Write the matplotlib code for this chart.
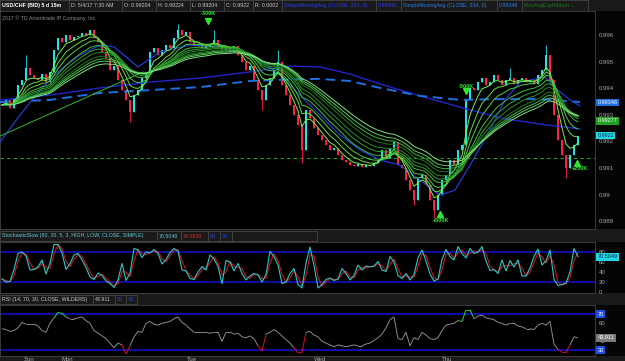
import numpy as np
import pandas as pd
import matplotlib
matplotlib.use("Agg")
import matplotlib.pyplot as plt
from matplotlib.collections import LineCollection
from matplotlib.patches import Rectangle
import matplotlib.transforms as mtrans

plt.rcParams['font.family'] = ['Liberation Sans', 'DejaVu Sans']

W, H = 625, 361

# USD/CHF closes, one value per ~45 min
closes = [
    0.99337, 0.99356, 0.99326, 0.99363, 0.99412, 0.99431, 0.99476, 0.99450, 0.99438, 0.99431,
    0.99453, 0.99423, 0.99461, 0.99544, 0.99589, 0.99574, 0.99600, 0.99581, 0.99592, 0.99596,
    0.99608, 0.99600, 0.99619, 0.99589, 0.99574, 0.99536, 0.99514, 0.99468, 0.99483, 0.99431,
    0.99393, 0.99356, 0.99310, 0.99374, 0.99393, 0.99438, 0.99461, 0.99536, 0.99551, 0.99525,
    0.99544, 0.99562, 0.99551, 0.99589, 0.99619, 0.99600, 0.99611, 0.99574, 0.99559, 0.99566,
    0.99551, 0.99559, 0.99566, 0.99581, 0.99555, 0.99544, 0.99551, 0.99536, 0.99559, 0.99525,
    0.99498, 0.99468, 0.99483, 0.99431, 0.99393, 0.99356, 0.99412, 0.99438, 0.99468, 0.99498,
    0.99412, 0.99374, 0.99337, 0.99299, 0.99262, 0.99168, 0.99318, 0.99288, 0.99250, 0.99224,
    0.99205, 0.99186, 0.99168, 0.99175, 0.99149, 0.99130, 0.99122, 0.99111, 0.99107, 0.99115,
    0.99104, 0.99111, 0.99107, 0.99119, 0.99130, 0.99168, 0.99138, 0.99175, 0.99198, 0.99111,
    0.99100, 0.99055, 0.99017, 0.98980, 0.99062, 0.99074, 0.99036, 0.98980, 0.98942, 0.98998,
    0.99055, 0.99074, 0.99130, 0.99111, 0.99168, 0.99186, 0.99356, 0.99401, 0.99393, 0.99423,
    0.99438, 0.99412, 0.99423, 0.99450, 0.99431, 0.99412, 0.99431, 0.99438, 0.99416, 0.99431,
    0.99438, 0.99423, 0.99431, 0.99416, 0.99450, 0.99468, 0.99525, 0.99431, 0.99299, 0.99205,
    0.99149, 0.99100, 0.99149, 0.99186, 0.99220,
]
# long wicks
spike_bar = [6, 32, 44, 53, 65, 69, 75, 103, 108, 127, 136, 141]
spike_px = [0.99525, 0.99273, 0.99641, 0.99619, 0.99318, 0.99544, 0.99119,
            0.98961, 0.98912, 0.99476, 0.99562, 0.99062]

# slow averages, knots (bar, price)
sma_bar = [-0.5, 12, 24.5, 37, 49.5, 62, 72, 79.5, 87, 94.5, 104.5, 114.5, 124.5, 134.5, 144.5]
sma_solid = [0.99356, 0.99374, 0.99401, 0.99423, 0.99438, 0.99461, 0.99483, 0.99480, 0.99453,
             0.99416, 0.99371, 0.99329, 0.99288, 0.99265, 0.99247]
sma_dash = [0.99348, 0.99356, 0.99382, 0.99393, 0.99404, 0.99427, 0.99433, 0.99435, 0.99427,
            0.99401, 0.99371, 0.99356, 0.99359, 0.99359, 0.99348]
fast_bar = [-0.5, 4.5, 9.5, 14.5, 19.5, 24.5, 28, 34, 39.5, 47, 54.5, 59.5, 64.5, 69.5, 74.5,
            79.5, 84.5, 89.5, 94.5, 99.5, 104.5, 109.5, 113.25, 117, 122, 125.75, 129.5,
            135.75, 138.25, 142, 144.5]
fast_blue = [0.99198, 0.99299, 0.99393, 0.99468, 0.99525, 0.99562, 0.99555, 0.99480, 0.99536,
             0.99562, 0.99555, 0.99536, 0.99506, 0.99450, 0.99374, 0.99299, 0.99224, 0.99168,
             0.99130, 0.99111, 0.99055, 0.98998, 0.99017, 0.99111, 0.99243, 0.99356, 0.99423,
             0.99442, 0.99401, 0.99356, 0.99333]
seed_bar = [-0.5, 35.25]
seed_line = [0.99220, 0.99461]
ribbon_spans = [4, 7, 10, 14, 17, 20, 24, 27, 30, 34]
level_line = 0.99139

stoch_k = [
    26, 20, 21, 45, 77, 80, 72, 44, 45, 50,
    64, 36, 58, 95, 95, 78, 45, 57, 74, 77,
    64, 49, 30, 25, 38, 33, 22, 17, 9, 24,
    57, 23, 38, 87, 84, 69, 80, 78, 85, 77,
    56, 65, 79, 87, 82, 44, 42, 27, 25, 40,
    51, 44, 74, 66, 51, 17, 63, 60, 42, 57,
    37, 24, 32, 37, 34, 20, 35, 81, 71, 54,
    17, 20, 37, 47, 15, 8, 58, 90, 53, 8,
    15, 25, 28, 23, 26, 47, 37, 24, 33, 54,
    44, 52, 50, 52, 61, 44, 41, 71, 60, 33,
    27, 37, 24, 35, 68, 84, 62, 36, 22, 26,
    65, 85, 71, 64, 91, 77, 68, 87, 77, 80,
    91, 62, 43, 45, 37, 64, 42, 63, 50, 64,
    32, 32, 48, 71, 86, 54, 62, 84, 25, 13,
    15, 18, 40, 87, 70.5,
]
rsi = [
    54, 53, 51, 52, 55, 61, 59, 59, 59, 57,
    52, 50, 60, 66, 72, 71, 67, 65, 65, 66,
    67, 63, 60, 52, 49, 46, 43, 38, 33, 38,
    36, 26, 35, 45, 51, 50, 60, 62, 59, 58,
    60, 61, 62, 65, 67, 61, 58, 54, 50, 50,
    50, 50, 49, 50, 50, 40, 50, 50, 48, 49,
    45, 44, 46, 43, 35, 29, 48, 50, 53, 50,
    46, 42, 38, 33, 27, 28, 50, 51, 47, 45,
    40, 38, 36, 34, 36, 35, 34, 35, 36, 35,
    35, 37, 38, 41, 44, 48, 55, 64, 67, 43,
    42, 50, 35, 44, 42, 50, 47, 43, 42, 44,
    52, 58, 59, 60, 63, 62, 75, 75, 65, 68,
    69, 66, 65, 64, 61, 60, 58, 60, 60, 57,
    56, 54, 54, 53, 58, 60, 58, 62, 37, 31,
    28, 28, 36, 45, 43.911,
]
day_names = ['Sun', 'Mon', 'Tue', 'Wed', 'Thu']
day_bar = [6.75, 16.25, 47.5, 79.5, 111.25]
price_ticks = [0.989, 0.990, 0.991, 0.992, 0.993, 0.994, 0.995, 0.996]
price_labels = ['0.989', '0.99', '0.991', '0.992', '0.993', '0.994', '0.995', '0.996']

UP, DOWN = '#1ee3ee', '#ff1f4b'
GRAY = '#444444'
HDR = 3.8

fig = plt.figure(figsize=(W / 100, H / 100), dpi=100, facecolor='#1a1a1a')


def fx(x):
    return x / W


def fy(y):
    return 1 - y / H


def band(y0, y1, x0=0, x1=W, fc='#1a1a1a', ec='none', z=-1):
    fig.patches.append(Rectangle((fx(x0), fy(y1)), (x1 - x0) / W, (y1 - y0) / H,
                                 transform=fig.transFigure, fc=fc, ec=ec, lw=0.6, zorder=z))


def header(cells, y0, y1, size=HDR):
    for x0, x1, txt, col, wt in cells:
        band(y0, y1, x0, x1, fc='#1a1a1a', ec=GRAY)
        fig.text(fx(x0 + 2), fy((y0 + y1) / 2), txt, color=col, fontsize=size,
                 fontweight=wt, va='center', ha='left')


def tag(ax, val, txt, fc, tc='white'):
    tr = mtrans.blended_transform_factory(ax.transAxes, ax.transData)
    ax.text(1.004, val, txt, transform=tr, color=tc, fontsize=4.0, va='center', ha='left',
            clip_on=False, zorder=10,
            bbox=dict(boxstyle='square,pad=0.25', fc=fc, ec='none'))


def style(ax):
    ax.set_facecolor('black')
    for s in ax.spines.values():
        s.set_color(GRAY)
        s.set_linewidth(0.6)
    ax.yaxis.tick_right()
    ax.tick_params(axis='y', length=0, pad=3, labelsize=4.3, labelcolor='#a8a8a8')
    ax.tick_params(axis='x', length=0)
    ax.set_xlim(-0.5, 148.25)


# black strips on the right of each pane
for y0, y1 in [(11, 229), (242, 293), (305, 356)]:
    band(y0, y1, 595, W, fc='#050505')

# ---------------- price pane
ax = fig.add_axes([0, fy(229), fx(595), (229 - 11) / H])
style(ax)
ax.set_ylim(0.98871, 0.99690)
ax.set_xticks([])
ax.set_yticks(price_ticks, price_labels)

x = np.arange(len(closes))
c = np.array(closes)
o = np.r_[c[0], c[:-1]]
hi = np.maximum(o, c)
lo = np.minimum(o, c)
for b, p in zip(spike_bar, spike_px):
    if p > hi[b]:
        hi[b] = p
    else:
        lo[b] = p
cols = [UP if cc >= oo else DOWN for oo, cc in zip(o, c)]
ax.vlines(x, lo, hi, colors=cols, lw=0.6, zorder=2)
body = np.maximum(np.abs(c - o), 0.00003)
ax.bar(x, body, bottom=np.minimum(o, c), width=0.55, color=cols, lw=0, zorder=2)

ax.axhline(level_line, color='#1f9f1f', lw=0.8, ls=(0, (3, 3)), zorder=1)
ax.plot(sma_bar, sma_solid, color='#2323c8', lw=1.0, zorder=3)
ax.plot(sma_bar, sma_dash, color='#1f6fe0', lw=1.4, ls=(0, (5, 3)), zorder=3)
ax.plot(fast_bar, fast_blue, color='#2440e8', lw=0.8, zorder=3)
ax.plot(seed_bar, seed_line, color='#2fb82f', lw=0.7, zorder=3)

ribbon_colors = ['#78f04a', '#62e040', '#4fcf3a', '#3fbf3a', '#2fa82f', '#228f22',
                 '#1d7a1d', '#3cb83c', '#5ccc5c', '#80e080']
cs = pd.Series(closes)
for s, col in zip(ribbon_spans, ribbon_colors):
    ax.plot(x, cs.ewm(span=s, adjust=False).mean(), color=col, lw=0.7, zorder=3)

# trade markers
ax.plot(51.5, 0.99653, marker='v', color='#2ee82e', ms=4, zorder=5)
ax.text(51.5, 0.99679, '-300K', color='#2ee82e', fontsize=4.0, ha='center', va='center',
        fontweight='bold', zorder=5)
ax.plot(116, 0.99388, marker='v', color='#2ee82e', ms=4, zorder=1)
ax.text(116, 0.99405, '-500K', color='#2ee82e', fontsize=4.0, ha='center', va='center',
        fontweight='bold', zorder=1)
ax.plot(109.5, 0.98929, marker='^', color='#2ee82e', ms=4, zorder=5)
ax.text(109.75, 0.98904, '+500K', color='#2ee82e', fontsize=4.0, ha='center', va='center',
        fontweight='bold', zorder=5)
ax.plot(143.75, 0.99119, marker='^', color='#2ee82e', ms=4, zorder=5)
ax.text(144.5, 0.99098, '+200K', color='#2ee82e', fontsize=4.0, ha='center', va='center',
        fontweight='bold', zorder=5)

ax.text(0.004, 0.967, '2017 \u00a9 TD Ameritrade IP Company, Inc.', transform=ax.transAxes,
        color='#8a8a8a', fontsize=3.8, va='center', ha='left')

tag(ax, 0.99346, '0.99346', '#1f6fe0')
tag(ax, 0.99277, '0.99277', '#22a022')
tag(ax, 0.99222, '0.9922', '#22d6e6', tc='#003040')

# ---------------- stochastic pane
ax2 = fig.add_axes([0, fy(293), fx(595), (293 - 242) / H])
style(ax2)
ax2.set_ylim(-2, 100)
ax2.set_xticks([])
ax2.set_yticks([0, 20, 40, 60, 80], ['0', '20', '40', '60', '80'])
ax2.axhline(80, color='#1212d8', lw=1.1)
ax2.axhline(20, color='#1212d8', lw=1.1)
k = pd.Series(stoch_k)
ax2.plot(x, k.rolling(2, min_periods=1).mean(), color='#d01414', lw=0.8)
ax2.plot(x, k, color='#2cc6c9', lw=0.8)
tag(ax2, 70.5, '70.5049', '#22d6e6', tc='#003040')

# ---------------- RSI pane
ax3 = fig.add_axes([0, fy(356), fx(595), (356 - 305) / H])
style(ax3)
ax3.set_ylim(23.7, 80.3)
ax3.set_yticks([40, 60], ['40', '60'])
ax3.set_xticks(day_bar, day_names)
ax3.tick_params(axis='x', pad=1, labelsize=4.3, labelcolor='#a8a8a8')
ax3.axhline(70, color='#1212d8', lw=1.1)
ax3.axhline(30, color='#1212d8', lw=1.1)
pts = np.column_stack([x, rsi])
segs = np.stack([pts[:-1], pts[1:]], axis=1)
seg_cols = []
for a, b in zip(rsi[:-1], rsi[1:]):
    if max(a, b) > 70:
        seg_cols.append('#22dd22')
    elif min(a, b) < 30:
        seg_cols.append('#dd1111')
    else:
        seg_cols.append('#8c8c8c')
ax3.add_collection(LineCollection(segs, colors=seg_cols, lw=0.7))
tag(ax3, 70, '70', '#1f4fe0')
tag(ax3, 30, '30', '#1f4fe0')
tag(ax3, 43.911, '43.911', '#7a7a7a')

# ---------------- headers
header([
    (0, 69, 'USD/CHF (BID) 5 d 15m', 'white', 'bold'),
    (69, 122, 'D: 5/4/17 7:30 AM', '#c8c8c8', 'normal'),
    (122, 156, 'O: 0.99204', '#c8c8c8', 'normal'),
    (156, 190, 'H: 0.99224', '#c8c8c8', 'normal'),
    (190, 224, 'L: 0.99204', '#c8c8c8', 'normal'),
    (224, 253, 'C: 0.9922', '#c8c8c8', 'normal'),
    (253, 282, 'R: 0.0002', '#c8c8c8', 'normal'),
    (282, 376, 'SimpleMovingAvg (CLOSE, 200, 0)', '#2a3cf0', 'normal'),
    (376, 401, '0.99346', '#2a3cf0', 'normal'),
    (401, 497, 'SimpleMovingAvg (CLOSE, 314, 0)', '#2a7ff0', 'normal'),
    (497, 522, '0.99346', '#2a7ff0', 'normal'),
    (522, 588, 'MovAvgExpRibbon ...', '#1f7a1f', 'normal'),
], 0, 11)
header([
    (0, 157, 'StochasticSlow (80, 20, 5, 3, HIGH, LOW, CLOSE, SIMPLE)', '#5fd0d8', 'normal'),
    (157, 181, '70.5048', '#5fd0d8', 'normal'),
    (181, 208, '79.0839', '#e02828', 'normal'),
    (208, 220, '80', '#2a4cf0', 'normal'),
    (220, 232, '20', '#2a4cf0', 'normal'),
    (232, 317, '', '#c8c8c8', 'normal'),
], 231, 241)
header([
    (0, 93, 'RSI (14, 70, 30, CLOSE, WILDERS)', '#c8c8c8', 'normal'),
    (93, 115, '43.911', '#c8c8c8', 'normal'),
    (115, 126, '30', '#2a4cf0', 'normal'),
    (126, 137, '70', '#2a4cf0', 'normal'),
], 295, 304)

fig.savefig('out.png', dpi=100, facecolor=fig.get_facecolor())
